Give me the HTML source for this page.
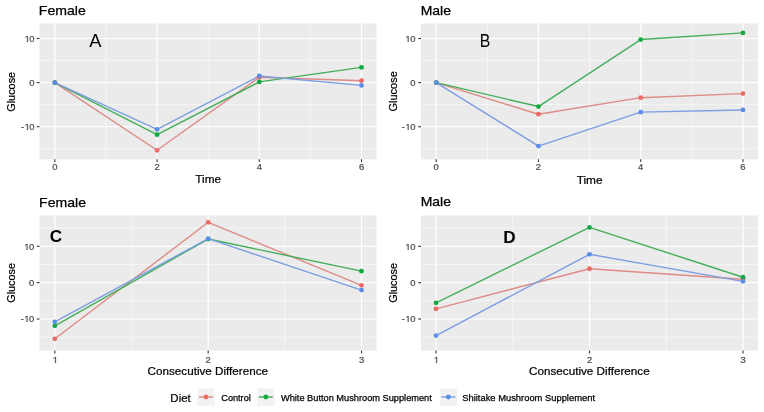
<!DOCTYPE html>
<html><head><meta charset="utf-8"><style>
html,body{margin:0;padding:0;background:#fff;}
svg{display:block;will-change:transform;filter:blur(0.35px);}
text{font-family:"Liberation Sans",sans-serif;}
.axp{fill:#4D4D4D;stroke:#4D4D4D;stroke-width:55px;}
.ax{font-size:8.65px;fill:#4D4D4D;stroke:#4D4D4D;stroke-width:0.23px;}
.at{fill:#000;stroke:#000;stroke-width:0.22px;}
.tt{fill:#000;stroke:#000;stroke-width:0.25px;}
.lg{fill:#000;stroke:#000;stroke-width:0.25px;}
.lt{fill:#000;}
.lb{font-weight:bold;fill:#000;}
</style></head><body>
<svg width="764" height="412" viewBox="0 0 764 412">
<rect width="764" height="412" fill="#fff"/>
<rect x="39.5" y="23.5" width="337.0" height="135.8" fill="#EBEBEB"/>
<line x1="39.5" x2="376.5" y1="148.75" y2="148.75" stroke="#fff" stroke-width="0.6" stroke-opacity="0.9"/>
<line x1="39.5" x2="376.5" y1="104.65" y2="104.65" stroke="#fff" stroke-width="0.6" stroke-opacity="0.9"/>
<line x1="39.5" x2="376.5" y1="60.55" y2="60.55" stroke="#fff" stroke-width="0.6" stroke-opacity="0.9"/>
<line x1="105.96" x2="105.96" y1="23.5" y2="159.3" stroke="#fff" stroke-width="0.6" stroke-opacity="0.9"/>
<line x1="208.18" x2="208.18" y1="23.5" y2="159.3" stroke="#fff" stroke-width="0.6" stroke-opacity="0.9"/>
<line x1="310.40" x2="310.40" y1="23.5" y2="159.3" stroke="#fff" stroke-width="0.6" stroke-opacity="0.9"/>
<line x1="39.5" x2="376.5" y1="126.70" y2="126.70" stroke="#fff" stroke-width="1.2"/>
<line x1="39.5" x2="376.5" y1="82.60" y2="82.60" stroke="#fff" stroke-width="1.2"/>
<line x1="39.5" x2="376.5" y1="38.50" y2="38.50" stroke="#fff" stroke-width="1.2"/>
<line x1="54.85" x2="54.85" y1="23.5" y2="159.3" stroke="#fff" stroke-width="1.2"/>
<line x1="157.07" x2="157.07" y1="23.5" y2="159.3" stroke="#fff" stroke-width="1.2"/>
<line x1="259.29" x2="259.29" y1="23.5" y2="159.3" stroke="#fff" stroke-width="1.2"/>
<line x1="361.51" x2="361.51" y1="23.5" y2="159.3" stroke="#fff" stroke-width="1.2"/>
<line x1="54.85" x2="54.85" y1="159.3" y2="162.10000000000002" stroke="#333" stroke-width="1.1"/>
<line x1="157.07" x2="157.07" y1="159.3" y2="162.10000000000002" stroke="#333" stroke-width="1.1"/>
<line x1="259.29" x2="259.29" y1="159.3" y2="162.10000000000002" stroke="#333" stroke-width="1.1"/>
<line x1="361.51" x2="361.51" y1="159.3" y2="162.10000000000002" stroke="#333" stroke-width="1.1"/>
<line x1="36.7" x2="39.5" y1="126.70" y2="126.70" stroke="#333" stroke-width="1.1"/>
<line x1="36.7" x2="39.5" y1="82.60" y2="82.60" stroke="#333" stroke-width="1.1"/>
<line x1="36.7" x2="39.5" y1="38.50" y2="38.50" stroke="#333" stroke-width="1.1"/>
<text class="ax" transform="translate(52.23,170.00) scale(1.09,1)">0</text>
<text class="ax" transform="translate(154.45,170.00) scale(1.09,1)">2</text>
<text class="ax" transform="translate(256.67,170.00) scale(1.09,1)">4</text>
<text class="ax" transform="translate(358.89,170.00) scale(1.09,1)">6</text>
<text class="ax" transform="translate(20.97,130.00) scale(1.09,1)">-</text><path class="axp" transform="translate(24.11,130.00) scale(0.004604,-0.004224)" d="M615 0L615 1237L297 1010L297 1180L630 1409L796 1409L796 0Z"/><text class="ax" transform="translate(29.36,130.00) scale(1.09,1)">0</text>
<text class="ax" transform="translate(29.36,86.00) scale(1.09,1)">0</text>
<path class="axp" transform="translate(24.11,42.00) scale(0.004604,-0.004224)" d="M615 0L615 1237L297 1010L297 1180L630 1409L796 1409L796 0Z"/><text class="ax" transform="translate(29.36,42.00) scale(1.09,1)">0</text>
<polyline points="54.85,82.60 157.07,150.29 259.29,77.31 361.51,80.70" fill="none" stroke="#DE8B86" stroke-width="1.4" stroke-linejoin="round"/>
<polyline points="54.85,82.60 157.07,134.64 259.29,81.89 361.51,67.43" fill="none" stroke="#44AE5A" stroke-width="1.4" stroke-linejoin="round"/>
<polyline points="54.85,82.60 157.07,129.35 259.29,75.98 361.51,85.38" fill="none" stroke="#7C9EE2" stroke-width="1.4" stroke-linejoin="round"/>
<circle cx="54.85" cy="82.60" r="2.4" fill="#EC6A66"/>
<circle cx="157.07" cy="150.29" r="2.4" fill="#EC6A66"/>
<circle cx="259.29" cy="77.31" r="2.4" fill="#EC6A66"/>
<circle cx="361.51" cy="80.70" r="2.4" fill="#EC6A66"/>
<circle cx="54.85" cy="82.60" r="2.4" fill="#14A845"/>
<circle cx="157.07" cy="134.64" r="2.4" fill="#14A845"/>
<circle cx="259.29" cy="81.89" r="2.4" fill="#14A845"/>
<circle cx="361.51" cy="67.43" r="2.4" fill="#14A845"/>
<circle cx="54.85" cy="82.60" r="2.4" fill="#5A8EE8"/>
<circle cx="157.07" cy="129.35" r="2.4" fill="#5A8EE8"/>
<circle cx="259.29" cy="75.98" r="2.4" fill="#5A8EE8"/>
<circle cx="361.51" cy="85.38" r="2.4" fill="#5A8EE8"/>
<text x="38.81" y="14.65" class="tt" font-size="12.80" textLength="47.02" lengthAdjust="spacingAndGlyphs">Female</text>
<text transform="translate(15.49,91.80) rotate(-90)" class="at" font-size="11.00" text-anchor="middle" textLength="39.91" lengthAdjust="spacingAndGlyphs">Glucose</text>
<text x="195.38" y="183.23" class="at" font-size="11.40" textLength="25.69" lengthAdjust="spacingAndGlyphs">Time</text>
<text x="89.20" y="47.05" class="lt" font-size="18.00" textLength="12.19" lengthAdjust="spacingAndGlyphs">A</text>
<rect x="421" y="23.5" width="337" height="135.8" fill="#EBEBEB"/>
<line x1="421" x2="758" y1="148.75" y2="148.75" stroke="#fff" stroke-width="0.6" stroke-opacity="0.9"/>
<line x1="421" x2="758" y1="104.65" y2="104.65" stroke="#fff" stroke-width="0.6" stroke-opacity="0.9"/>
<line x1="421" x2="758" y1="60.55" y2="60.55" stroke="#fff" stroke-width="0.6" stroke-opacity="0.9"/>
<line x1="487.32" x2="487.32" y1="23.5" y2="159.3" stroke="#fff" stroke-width="0.6" stroke-opacity="0.9"/>
<line x1="589.58" x2="589.58" y1="23.5" y2="159.3" stroke="#fff" stroke-width="0.6" stroke-opacity="0.9"/>
<line x1="691.83" x2="691.83" y1="23.5" y2="159.3" stroke="#fff" stroke-width="0.6" stroke-opacity="0.9"/>
<line x1="421" x2="758" y1="126.70" y2="126.70" stroke="#fff" stroke-width="1.2"/>
<line x1="421" x2="758" y1="82.60" y2="82.60" stroke="#fff" stroke-width="1.2"/>
<line x1="421" x2="758" y1="38.50" y2="38.50" stroke="#fff" stroke-width="1.2"/>
<line x1="436.20" x2="436.20" y1="23.5" y2="159.3" stroke="#fff" stroke-width="1.2"/>
<line x1="538.45" x2="538.45" y1="23.5" y2="159.3" stroke="#fff" stroke-width="1.2"/>
<line x1="640.70" x2="640.70" y1="23.5" y2="159.3" stroke="#fff" stroke-width="1.2"/>
<line x1="742.95" x2="742.95" y1="23.5" y2="159.3" stroke="#fff" stroke-width="1.2"/>
<line x1="436.20" x2="436.20" y1="159.3" y2="162.10000000000002" stroke="#333" stroke-width="1.1"/>
<line x1="538.45" x2="538.45" y1="159.3" y2="162.10000000000002" stroke="#333" stroke-width="1.1"/>
<line x1="640.70" x2="640.70" y1="159.3" y2="162.10000000000002" stroke="#333" stroke-width="1.1"/>
<line x1="742.95" x2="742.95" y1="159.3" y2="162.10000000000002" stroke="#333" stroke-width="1.1"/>
<line x1="418.2" x2="421" y1="126.70" y2="126.70" stroke="#333" stroke-width="1.1"/>
<line x1="418.2" x2="421" y1="82.60" y2="82.60" stroke="#333" stroke-width="1.1"/>
<line x1="418.2" x2="421" y1="38.50" y2="38.50" stroke="#333" stroke-width="1.1"/>
<text class="ax" transform="translate(433.58,170.00) scale(1.09,1)">0</text>
<text class="ax" transform="translate(535.83,170.00) scale(1.09,1)">2</text>
<text class="ax" transform="translate(638.08,170.00) scale(1.09,1)">4</text>
<text class="ax" transform="translate(740.33,170.00) scale(1.09,1)">6</text>
<text class="ax" transform="translate(401.77,130.00) scale(1.09,1)">-</text><path class="axp" transform="translate(404.91,130.00) scale(0.004604,-0.004224)" d="M615 0L615 1237L297 1010L297 1180L630 1409L796 1409L796 0Z"/><text class="ax" transform="translate(410.16,130.00) scale(1.09,1)">0</text>
<text class="ax" transform="translate(410.16,86.00) scale(1.09,1)">0</text>
<path class="axp" transform="translate(404.91,42.00) scale(0.004604,-0.004224)" d="M615 0L615 1237L297 1010L297 1180L630 1409L796 1409L796 0Z"/><text class="ax" transform="translate(410.16,42.00) scale(1.09,1)">0</text>
<polyline points="436.20,82.60 538.45,114.22 640.70,97.68 742.95,93.58" fill="none" stroke="#DE8B86" stroke-width="1.4" stroke-linejoin="round"/>
<polyline points="436.20,82.60 538.45,106.55 640.70,39.56 742.95,32.90" fill="none" stroke="#44AE5A" stroke-width="1.4" stroke-linejoin="round"/>
<polyline points="436.20,82.60 538.45,146.10 640.70,112.15 742.95,109.94" fill="none" stroke="#7C9EE2" stroke-width="1.4" stroke-linejoin="round"/>
<circle cx="436.20" cy="82.60" r="2.4" fill="#EC6A66"/>
<circle cx="538.45" cy="114.22" r="2.4" fill="#EC6A66"/>
<circle cx="640.70" cy="97.68" r="2.4" fill="#EC6A66"/>
<circle cx="742.95" cy="93.58" r="2.4" fill="#EC6A66"/>
<circle cx="436.20" cy="82.60" r="2.4" fill="#14A845"/>
<circle cx="538.45" cy="106.55" r="2.4" fill="#14A845"/>
<circle cx="640.70" cy="39.56" r="2.4" fill="#14A845"/>
<circle cx="742.95" cy="32.90" r="2.4" fill="#14A845"/>
<circle cx="436.20" cy="82.60" r="2.4" fill="#5A8EE8"/>
<circle cx="538.45" cy="146.10" r="2.4" fill="#5A8EE8"/>
<circle cx="640.70" cy="112.15" r="2.4" fill="#5A8EE8"/>
<circle cx="742.95" cy="109.94" r="2.4" fill="#5A8EE8"/>
<text x="420.66" y="15.23" class="tt" font-size="12.80" textLength="30.27" lengthAdjust="spacingAndGlyphs">Male</text>
<text transform="translate(396.63,91.37) rotate(-90)" class="at" font-size="11.00" text-anchor="middle" textLength="40.32" lengthAdjust="spacingAndGlyphs">Glucose</text>
<text x="576.67" y="183.90" class="at" font-size="11.40" textLength="25.94" lengthAdjust="spacingAndGlyphs">Time</text>
<text x="479.73" y="46.55" class="lt" font-size="18.00" textLength="10.55" lengthAdjust="spacingAndGlyphs">B</text>
<rect x="39.5" y="215.4" width="337.0" height="135.20000000000002" fill="#EBEBEB"/>
<line x1="39.5" x2="376.5" y1="337.17" y2="337.17" stroke="#fff" stroke-width="0.6" stroke-opacity="0.9"/>
<line x1="39.5" x2="376.5" y1="300.82" y2="300.82" stroke="#fff" stroke-width="0.6" stroke-opacity="0.9"/>
<line x1="39.5" x2="376.5" y1="264.47" y2="264.47" stroke="#fff" stroke-width="0.6" stroke-opacity="0.9"/>
<line x1="39.5" x2="376.5" y1="228.12" y2="228.12" stroke="#fff" stroke-width="0.6" stroke-opacity="0.9"/>
<line x1="131.52" x2="131.52" y1="215.4" y2="350.6" stroke="#fff" stroke-width="0.6" stroke-opacity="0.9"/>
<line x1="284.85" x2="284.85" y1="215.4" y2="350.6" stroke="#fff" stroke-width="0.6" stroke-opacity="0.9"/>
<line x1="39.5" x2="376.5" y1="319.00" y2="319.00" stroke="#fff" stroke-width="1.2"/>
<line x1="39.5" x2="376.5" y1="282.65" y2="282.65" stroke="#fff" stroke-width="1.2"/>
<line x1="39.5" x2="376.5" y1="246.30" y2="246.30" stroke="#fff" stroke-width="1.2"/>
<line x1="54.85" x2="54.85" y1="215.4" y2="350.6" stroke="#fff" stroke-width="1.2"/>
<line x1="208.18" x2="208.18" y1="215.4" y2="350.6" stroke="#fff" stroke-width="1.2"/>
<line x1="361.51" x2="361.51" y1="215.4" y2="350.6" stroke="#fff" stroke-width="1.2"/>
<line x1="54.85" x2="54.85" y1="350.6" y2="353.40000000000003" stroke="#333" stroke-width="1.1"/>
<line x1="208.18" x2="208.18" y1="350.6" y2="353.40000000000003" stroke="#333" stroke-width="1.1"/>
<line x1="361.51" x2="361.51" y1="350.6" y2="353.40000000000003" stroke="#333" stroke-width="1.1"/>
<line x1="36.7" x2="39.5" y1="319.00" y2="319.00" stroke="#333" stroke-width="1.1"/>
<line x1="36.7" x2="39.5" y1="282.65" y2="282.65" stroke="#333" stroke-width="1.1"/>
<line x1="36.7" x2="39.5" y1="246.30" y2="246.30" stroke="#333" stroke-width="1.1"/>
<path class="axp" transform="translate(52.23,363.00) scale(0.004604,-0.004224)" d="M615 0L615 1237L297 1010L297 1180L630 1409L796 1409L796 0Z"/>
<text class="ax" transform="translate(205.56,363.00) scale(1.09,1)">2</text>
<text class="ax" transform="translate(358.89,363.00) scale(1.09,1)">3</text>
<text class="ax" transform="translate(20.67,322.00) scale(1.09,1)">-</text><path class="axp" transform="translate(23.81,322.00) scale(0.004604,-0.004224)" d="M615 0L615 1237L297 1010L297 1180L630 1409L796 1409L796 0Z"/><text class="ax" transform="translate(29.06,322.00) scale(1.09,1)">0</text>
<text class="ax" transform="translate(29.06,286.00) scale(1.09,1)">0</text>
<path class="axp" transform="translate(23.81,250.00) scale(0.004604,-0.004224)" d="M615 0L615 1237L297 1010L297 1180L630 1409L796 1409L796 0Z"/><text class="ax" transform="translate(29.06,250.00) scale(1.09,1)">0</text>
<polyline points="54.85,338.81 208.18,222.31 361.51,285.34" fill="none" stroke="#DE8B86" stroke-width="1.4" stroke-linejoin="round"/>
<polyline points="54.85,325.80 208.18,239.03 361.51,271.13" fill="none" stroke="#44AE5A" stroke-width="1.4" stroke-linejoin="round"/>
<polyline points="54.85,321.80 208.18,238.67 361.51,290.07" fill="none" stroke="#7C9EE2" stroke-width="1.4" stroke-linejoin="round"/>
<circle cx="54.85" cy="338.81" r="2.4" fill="#EC6A66"/>
<circle cx="208.18" cy="222.31" r="2.4" fill="#EC6A66"/>
<circle cx="361.51" cy="285.34" r="2.4" fill="#EC6A66"/>
<circle cx="54.85" cy="325.80" r="2.4" fill="#14A845"/>
<circle cx="208.18" cy="239.03" r="2.4" fill="#14A845"/>
<circle cx="361.51" cy="271.13" r="2.4" fill="#14A845"/>
<circle cx="54.85" cy="321.80" r="2.4" fill="#5A8EE8"/>
<circle cx="208.18" cy="238.67" r="2.4" fill="#5A8EE8"/>
<circle cx="361.51" cy="290.07" r="2.4" fill="#5A8EE8"/>
<text x="39.12" y="206.55" class="tt" font-size="12.80" textLength="46.85" lengthAdjust="spacingAndGlyphs">Female</text>
<text transform="translate(15.23,282.90) rotate(-90)" class="at" font-size="11.00" text-anchor="middle" textLength="39.86" lengthAdjust="spacingAndGlyphs">Glucose</text>
<text x="147.62" y="374.80" class="at" font-size="11.40" textLength="120.41" lengthAdjust="spacingAndGlyphs">Consecutive Difference</text>
<text x="49.78" y="242.35" class="lb" font-size="17.00" textLength="12.33" lengthAdjust="spacingAndGlyphs">C</text>
<rect x="421" y="215.4" width="337" height="135.20000000000002" fill="#EBEBEB"/>
<line x1="421" x2="758" y1="337.17" y2="337.17" stroke="#fff" stroke-width="0.6" stroke-opacity="0.9"/>
<line x1="421" x2="758" y1="300.82" y2="300.82" stroke="#fff" stroke-width="0.6" stroke-opacity="0.9"/>
<line x1="421" x2="758" y1="264.47" y2="264.47" stroke="#fff" stroke-width="0.6" stroke-opacity="0.9"/>
<line x1="421" x2="758" y1="228.12" y2="228.12" stroke="#fff" stroke-width="0.6" stroke-opacity="0.9"/>
<line x1="512.75" x2="512.75" y1="215.4" y2="350.6" stroke="#fff" stroke-width="0.6" stroke-opacity="0.9"/>
<line x1="666.25" x2="666.25" y1="215.4" y2="350.6" stroke="#fff" stroke-width="0.6" stroke-opacity="0.9"/>
<line x1="421" x2="758" y1="319.00" y2="319.00" stroke="#fff" stroke-width="1.2"/>
<line x1="421" x2="758" y1="282.65" y2="282.65" stroke="#fff" stroke-width="1.2"/>
<line x1="421" x2="758" y1="246.30" y2="246.30" stroke="#fff" stroke-width="1.2"/>
<line x1="436.00" x2="436.00" y1="215.4" y2="350.6" stroke="#fff" stroke-width="1.2"/>
<line x1="589.50" x2="589.50" y1="215.4" y2="350.6" stroke="#fff" stroke-width="1.2"/>
<line x1="743.00" x2="743.00" y1="215.4" y2="350.6" stroke="#fff" stroke-width="1.2"/>
<line x1="436.00" x2="436.00" y1="350.6" y2="353.40000000000003" stroke="#333" stroke-width="1.1"/>
<line x1="589.50" x2="589.50" y1="350.6" y2="353.40000000000003" stroke="#333" stroke-width="1.1"/>
<line x1="743.00" x2="743.00" y1="350.6" y2="353.40000000000003" stroke="#333" stroke-width="1.1"/>
<line x1="418.2" x2="421" y1="319.00" y2="319.00" stroke="#333" stroke-width="1.1"/>
<line x1="418.2" x2="421" y1="282.65" y2="282.65" stroke="#333" stroke-width="1.1"/>
<line x1="418.2" x2="421" y1="246.30" y2="246.30" stroke="#333" stroke-width="1.1"/>
<path class="axp" transform="translate(433.38,363.00) scale(0.004604,-0.004224)" d="M615 0L615 1237L297 1010L297 1180L630 1409L796 1409L796 0Z"/>
<text class="ax" transform="translate(586.88,363.00) scale(1.09,1)">2</text>
<text class="ax" transform="translate(740.38,363.00) scale(1.09,1)">3</text>
<text class="ax" transform="translate(401.77,322.00) scale(1.09,1)">-</text><path class="axp" transform="translate(404.91,322.00) scale(0.004604,-0.004224)" d="M615 0L615 1237L297 1010L297 1180L630 1409L796 1409L796 0Z"/><text class="ax" transform="translate(410.16,322.00) scale(1.09,1)">0</text>
<text class="ax" transform="translate(410.16,286.00) scale(1.09,1)">0</text>
<path class="axp" transform="translate(404.91,250.00) scale(0.004604,-0.004224)" d="M615 0L615 1237L297 1010L297 1180L630 1409L796 1409L796 0Z"/><text class="ax" transform="translate(410.16,250.00) scale(1.09,1)">0</text>
<polyline points="436.00,308.89 589.50,268.73 743.00,279.27" fill="none" stroke="#DE8B86" stroke-width="1.4" stroke-linejoin="round"/>
<polyline points="436.00,302.79 589.50,227.40 743.00,277.23" fill="none" stroke="#44AE5A" stroke-width="1.4" stroke-linejoin="round"/>
<polyline points="436.00,335.54 589.50,254.30 743.00,281.34" fill="none" stroke="#7C9EE2" stroke-width="1.4" stroke-linejoin="round"/>
<circle cx="436.00" cy="308.89" r="2.4" fill="#EC6A66"/>
<circle cx="589.50" cy="268.73" r="2.4" fill="#EC6A66"/>
<circle cx="743.00" cy="279.27" r="2.4" fill="#EC6A66"/>
<circle cx="436.00" cy="302.79" r="2.4" fill="#14A845"/>
<circle cx="589.50" cy="227.40" r="2.4" fill="#14A845"/>
<circle cx="743.00" cy="277.23" r="2.4" fill="#14A845"/>
<circle cx="436.00" cy="335.54" r="2.4" fill="#5A8EE8"/>
<circle cx="589.50" cy="254.30" r="2.4" fill="#5A8EE8"/>
<circle cx="743.00" cy="281.34" r="2.4" fill="#5A8EE8"/>
<text x="420.66" y="206.25" class="tt" font-size="12.80" textLength="30.27" lengthAdjust="spacingAndGlyphs">Male</text>
<text transform="translate(396.63,282.90) rotate(-90)" class="at" font-size="11.00" text-anchor="middle" textLength="39.86" lengthAdjust="spacingAndGlyphs">Glucose</text>
<text x="529.03" y="375.38" class="at" font-size="11.40" textLength="120.67" lengthAdjust="spacingAndGlyphs">Consecutive Difference</text>
<text x="503.30" y="242.65" class="lb" font-size="17.00" textLength="12.40" lengthAdjust="spacingAndGlyphs">D</text>
<text x="170.36" y="401.54" class="at" font-size="11.50" textLength="20.44" lengthAdjust="spacingAndGlyphs">Diet</text>
<rect x="197.3" y="388.5" width="17.3" height="17.3" fill="#F2F2F2"/>
<line x1="199.0" x2="212.9" y1="397.0" y2="397.0" stroke="#DE8B86" stroke-width="1.5"/>
<circle cx="205.95000000000002" cy="397.0" r="2.4" fill="#EC6A66"/>
<text x="221.29" y="400.74" class="lg" font-size="9.40" textLength="29.50" lengthAdjust="spacingAndGlyphs">Control</text>
<rect x="257.2" y="388.5" width="17.3" height="17.3" fill="#F2F2F2"/>
<line x1="258.9" x2="272.8" y1="397.0" y2="397.0" stroke="#44AE5A" stroke-width="1.5"/>
<circle cx="265.84999999999997" cy="397.0" r="2.4" fill="#14A845"/>
<text x="280.93" y="400.62" class="lg" font-size="9.40" textLength="150.90" lengthAdjust="spacingAndGlyphs">White Button Mushroom Supplement</text>
<rect x="439.7" y="388.5" width="17.3" height="17.3" fill="#F2F2F2"/>
<line x1="441.4" x2="455.3" y1="397.0" y2="397.0" stroke="#7C9EE2" stroke-width="1.5"/>
<circle cx="448.34999999999997" cy="397.0" r="2.4" fill="#5A8EE8"/>
<text x="462.24" y="400.71" class="lg" font-size="9.40" textLength="132.76" lengthAdjust="spacingAndGlyphs">Shiitake Mushroom Supplement</text>
</svg>
</body></html>
